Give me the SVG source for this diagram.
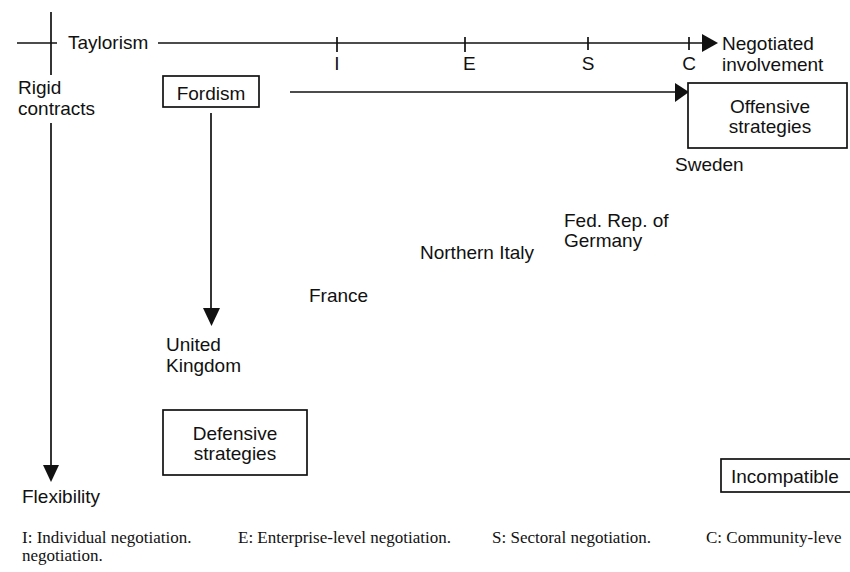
<svg xmlns="http://www.w3.org/2000/svg" width="850" height="572" viewBox="0 0 850 572">
<style>
.t{font-family:"Liberation Sans",Arial,sans-serif;font-size:19px;fill:#111}
.c{text-anchor:middle}
.ln{stroke:#111;stroke-width:1.7;fill:none}
.bx{stroke:#111;stroke-width:1.7;fill:#fff}
.ah{fill:#111;stroke:none}
.fn{font-family:"Liberation Serif","Times New Roman",serif;font-size:17px;fill:#111}
</style>
<rect width="850" height="572" fill="#fff"/>
<g id="connectors">
  <line class="ln" x1="51" y1="12" x2="51" y2="75"/>
  <line class="ln" x1="51" y1="123" x2="51" y2="467"/>
  <polygon class="ah" points="43,465 59,465 51,482"/>
  <line class="ln" x1="17" y1="43" x2="57" y2="43"/>
  <line class="ln" x1="158" y1="43" x2="704" y2="43"/>
  <polygon class="ah" points="702,34 702,52 718,43"/>
  <line class="ln" x1="337" y1="37" x2="337" y2="52"/>
  <line class="ln" x1="465" y1="37" x2="465" y2="52"/>
  <line class="ln" x1="588" y1="37" x2="588" y2="50"/>
  <line class="ln" x1="689" y1="37" x2="689" y2="50"/>
  <line class="ln" x1="211" y1="113" x2="211" y2="310"/>
  <polygon class="ah" points="203,308 220,308 211.5,326"/>
  <line class="ln" x1="290" y1="92" x2="677" y2="92"/>
  <polygon class="ah" points="675,83 675,102 689,92"/>
</g>
<g id="tick-labels">
  <text class="t c" x="337" y="70">I</text>
  <text class="t" x="463" y="70">E</text>
  <text class="t c" x="588" y="70">S</text>
  <text class="t c" x="689" y="70">C</text>
</g>
<g id="taylorism"><text class="t" x="68" y="49">Taylorism</text></g>
<g id="negotiated"><text class="t" x="722" y="50">Negotiated</text><text class="t" x="722" y="71">involvement</text></g>
<g id="rigid"><text class="t" x="18" y="94">Rigid</text><text class="t" x="18" y="115">contracts</text></g>
<g id="fordism"><rect class="bx" x="163" y="76" width="96" height="31"/><text class="t c" x="211" y="100">Fordism</text></g>
<g id="offensive"><rect class="bx" x="688" y="83" width="159" height="65"/><text class="t c" x="770" y="113">Offensive</text><text class="t c" x="770" y="133">strategies</text></g>
<g id="sweden"><text class="t" x="675" y="171">Sweden</text></g>
<g id="germany"><text class="t" x="564" y="227">Fed. Rep. of</text><text class="t" x="564" y="247">Germany</text></g>
<g id="italy"><text class="t" x="420" y="259">Northern Italy</text></g>
<g id="france"><text class="t" x="309" y="302">France</text></g>
<g id="uk"><text class="t" x="166" y="351">United</text><text class="t" x="166" y="372">Kingdom</text></g>
<g id="defensive"><rect class="bx" x="163" y="410" width="144" height="65"/><text class="t c" x="235" y="440">Defensive</text><text class="t c" x="235" y="460">strategies</text></g>
<g id="flexibility"><text class="t" x="22" y="503">Flexibility</text></g>
<g id="incompatible"><rect class="bx" x="721" y="459" width="132" height="33"/><text class="t" x="731" y="483">Incompatible</text></g>
<g id="footnote">
  <text class="fn" x="22" y="543">I: Individual negotiation.</text>
  <text class="fn" x="238" y="543">E: Enterprise-level negotiation.</text>
  <text class="fn" x="492" y="543">S: Sectoral negotiation.</text>
  <text class="fn" x="706" y="543">C: Community-leve</text>
  <text class="fn" x="22" y="561">negotiation.</text>
</g>
</svg>
